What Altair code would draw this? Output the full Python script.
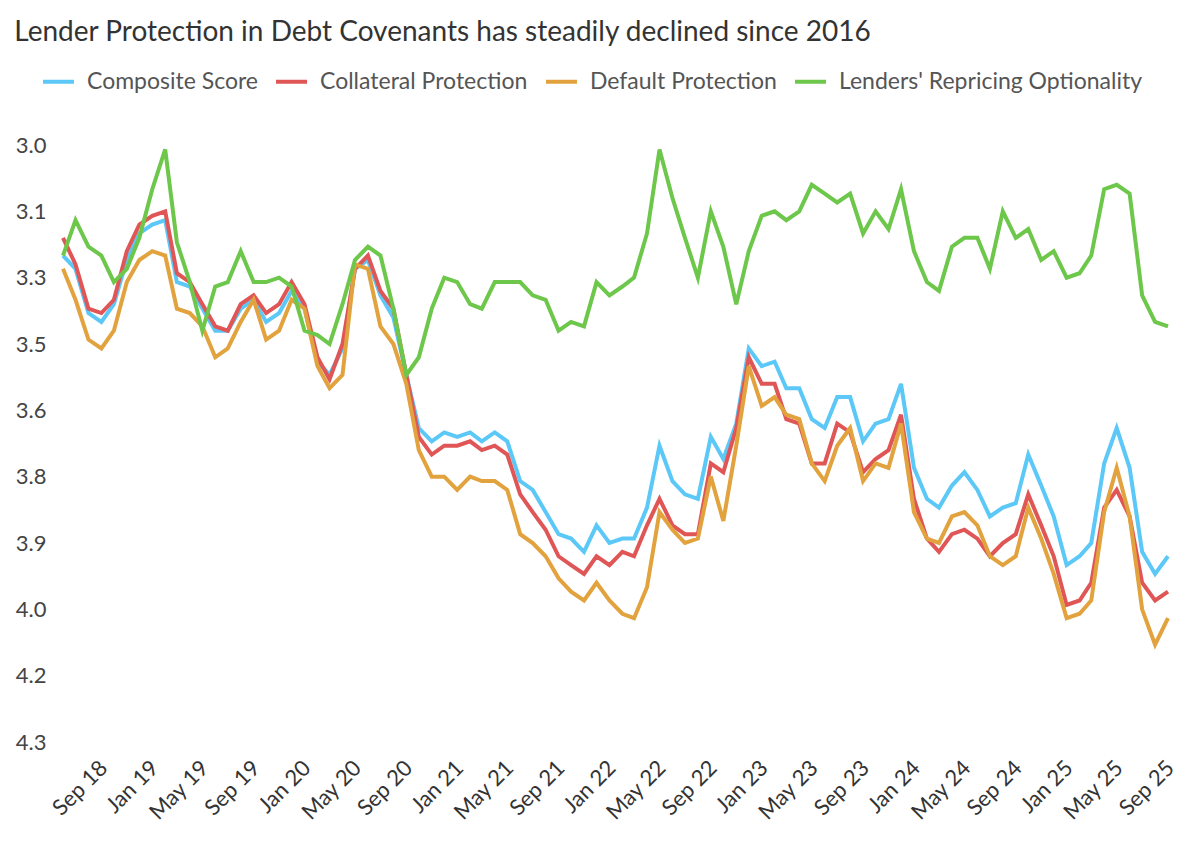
import altair as alt
import pandas as pd

months = [d.strftime("%Y-%m-%dT00:00:00") for d in pd.date_range("2018-06-01", periods=88, freq="MS")]

composite = [3.25, 3.28, 3.38, 3.40, 3.36, 3.26, 3.20, 3.18, 3.17, 3.31,
             3.32, 3.37, 3.42, 3.42, 3.37, 3.35, 3.40, 3.38, 3.33, 3.37,
             3.49, 3.52, 3.46, 3.28, 3.26, 3.34, 3.39, 3.52, 3.64, 3.67,
             3.65, 3.66, 3.65, 3.67, 3.65, 3.67, 3.76, 3.78, 3.83, 3.88,
             3.89, 3.92, 3.86, 3.90, 3.89, 3.89, 3.82, 3.68, 3.76, 3.79,
             3.80, 3.66, 3.71, 3.63, 3.46, 3.50, 3.49, 3.55, 3.55, 3.62,
             3.64, 3.57, 3.57, 3.67, 3.63, 3.62, 3.54, 3.73, 3.80, 3.82,
             3.77, 3.74, 3.78, 3.84, 3.82, 3.81, 3.70, 3.77, 3.84, 3.95,
             3.93, 3.90, 3.72, 3.64, 3.73, 3.92, 3.97, 3.93]

collateral = [3.21, 3.27, 3.37, 3.38, 3.35, 3.24, 3.18, 3.16, 3.15, 3.29,
              3.31, 3.36, 3.41, 3.42, 3.36, 3.34, 3.38, 3.36, 3.31, 3.36,
              3.48, 3.53, 3.45, 3.28, 3.25, 3.33, 3.37, 3.52, 3.66, 3.70,
              3.68, 3.68, 3.67, 3.69, 3.68, 3.70, 3.79, 3.83, 3.87, 3.93,
              3.95, 3.97, 3.93, 3.95, 3.92, 3.93, 3.86, 3.80, 3.86, 3.88,
              3.88, 3.72, 3.74, 3.64, 3.48, 3.54, 3.54, 3.62, 3.63, 3.72,
              3.72, 3.63, 3.65, 3.74, 3.71, 3.69, 3.61, 3.80, 3.89, 3.92,
              3.88, 3.87, 3.89, 3.93, 3.90, 3.88, 3.79, 3.86, 3.93, 4.04,
              4.03, 3.99, 3.82, 3.78, 3.84, 3.99, 4.03, 4.01]

default = [3.28, 3.35, 3.44, 3.46, 3.42, 3.31, 3.26, 3.24, 3.25, 3.37,
           3.38, 3.41, 3.48, 3.46, 3.40, 3.35, 3.44, 3.42, 3.35, 3.37,
           3.50, 3.55, 3.52, 3.27, 3.28, 3.41, 3.45, 3.54, 3.69, 3.75,
           3.75, 3.78, 3.75, 3.76, 3.76, 3.78, 3.88, 3.90, 3.93, 3.98,
           4.01, 4.03, 3.99, 4.03, 4.06, 4.07, 4.00, 3.83, 3.87, 3.90,
           3.89, 3.75, 3.85, 3.68, 3.50, 3.59, 3.57, 3.61, 3.62, 3.72,
           3.76, 3.68, 3.64, 3.76, 3.72, 3.73, 3.63, 3.83, 3.89, 3.90,
           3.84, 3.83, 3.86, 3.93, 3.95, 3.93, 3.82, 3.89, 3.97, 4.07,
           4.06, 4.03, 3.83, 3.73, 3.84, 4.05, 4.13, 4.07]

repricing = [3.25, 3.17, 3.23, 3.25, 3.31, 3.28, 3.21, 3.10, 3.01, 3.22,
             3.31, 3.42, 3.32, 3.31, 3.24, 3.31, 3.31, 3.30, 3.32, 3.42,
             3.43, 3.45, 3.36, 3.26, 3.23, 3.25, 3.37, 3.52, 3.48, 3.37,
             3.30, 3.31, 3.36, 3.37, 3.31, 3.31, 3.31, 3.34, 3.35, 3.42,
             3.40, 3.41, 3.31, 3.34, 3.32, 3.30, 3.20, 3.01, 3.12, 3.21,
             3.30, 3.15, 3.23, 3.36, 3.24, 3.16, 3.15, 3.17, 3.15, 3.09,
             3.11, 3.13, 3.11, 3.20, 3.15, 3.19, 3.10, 3.24, 3.31, 3.33,
             3.23, 3.21, 3.21, 3.28, 3.15, 3.21, 3.19, 3.26, 3.24, 3.30,
             3.29, 3.25, 3.10, 3.09, 3.11, 3.34, 3.40, 3.41]

series_names = ["Composite Score", "Collateral Protection", "Default Protection",
                "Lenders' Repricing Optionality"]
series_colors = ["#5BC8F7", "#E05656", "#E2A23E", "#6DC74A"]
y_ticks = [3.0, 3.15, 3.3, 3.45, 3.6, 3.75, 3.9, 4.05, 4.2, 4.35]

rows = []
for name, vals in zip(series_names, [composite, collateral, default, repricing]):
    for m, v in zip(months, vals):
        rows.append({"month": m, "series": name, "value": v})
df = pd.DataFrame(rows)

x_ticks = [alt.DateTime(year=y, month=m, date=1)
           for y in range(2018, 2026) for m in (1, 5, 9)
           if (y, m) >= (2018, 9) and (y, m) <= (2025, 9)]

FONT = "Lato"

chart = alt.Chart(df).mark_line(strokeWidth=4, strokeJoin="miter", strokeCap="butt").encode(
    x=alt.X("month:T", title=None,
            scale=alt.Scale(domain=[alt.DateTime(year=2018, month=6, date=1),
                                    alt.DateTime(year=2025, month=9, date=1)], nice=False),
            axis=alt.Axis(values=x_ticks, format="%b %y", labelAngle=-45, labelFontSize=22,
                          labelColor="#333", labelFont=FONT, ticks=False, domain=False,
                          grid=False, labelPadding=15, labelOffset=-5, labelOverlap=False)),
    y=alt.Y("value:Q", title=None,
            scale=alt.Scale(domain=[3.0, 4.35], reverse=True, nice=False, zero=False),
            axis=alt.Axis(values=y_ticks, format=".1f", labelFontSize=22, labelColor="#444",
                          labelFont=FONT, ticks=False, domain=False, grid=False,
                          labelPadding=17)),
    color=alt.Color("series:N", sort=series_names,
                    scale=alt.Scale(domain=series_names, range=series_colors),
                    legend=alt.Legend(title=None, orient="none", direction="horizontal",
                                      legendX=-22, legendY=-81, symbolType="stroke",
                                      symbolStrokeWidth=4, symbolSize=961,
                                      labelFontSize=23, labelFont=FONT, labelColor="#555",
                                      labelLimit=0, columnPadding=10, labelOffset=11)),
    order=alt.Order("month:T"),
).properties(
    width=1105, height=597,
    title=alt.TitleParams("Lender Protection in Debt Covenants has steadily declined since 2016",
                          anchor="start", font=FONT, fontSize=28, fontWeight="normal",
                          color="#333", dx=-1, offset=17),
    autosize=alt.AutoSizeParams(type="none"),
    padding={"left": 55, "top": 137, "right": 20, "bottom": 100},
).configure_view(stroke=None)

chart.save("out.html", embed_options={"renderer": "svg", "actions": False})
